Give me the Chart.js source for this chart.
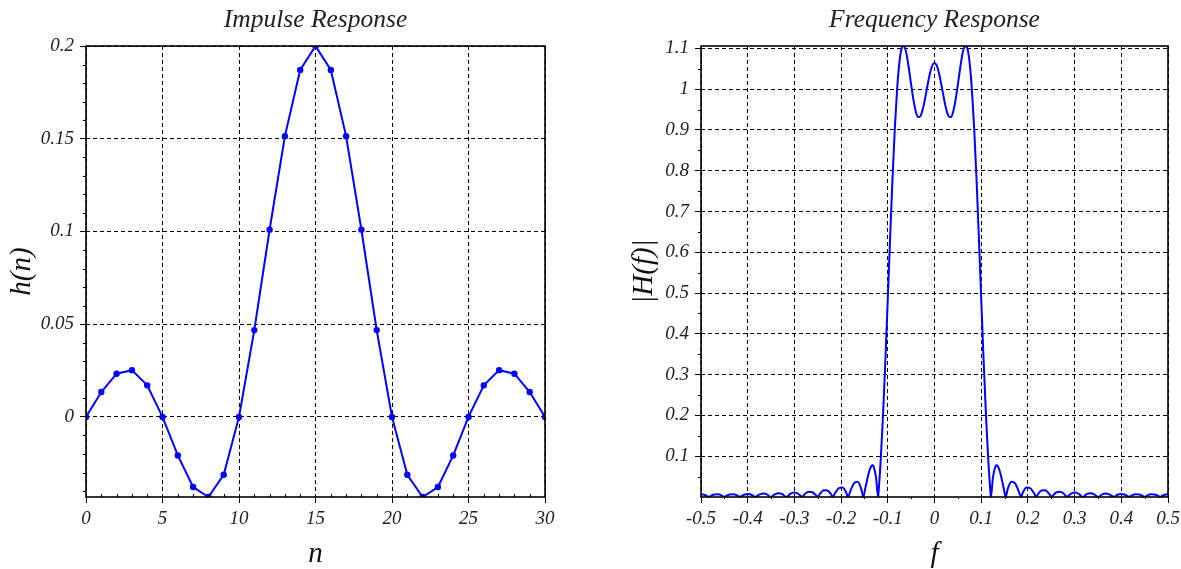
<!DOCTYPE html>
<html><head><meta charset="utf-8">
<script src="https://cdn.jsdelivr.net/npm/chart.js@4.4.1/dist/chart.umd.min.js"></script>
<style>
html,body{margin:0;padding:0;background:#fff;overflow:hidden;}
#wrapL{position:absolute;left:0;top:0;width:600px;height:569px;}
#wrapR{position:absolute;left:600px;top:0;width:581px;height:569px;}
</style></head><body>
<div id="wrapL"><canvas id="cL" width="600" height="569"></canvas></div>
<div id="wrapR"><canvas id="cR" width="581" height="569"></canvas></div>
<script>
// ---- Impulse response data ----
const nValues = [0,1,2,3,4,5,6,7,8,9,10,11,12,13,14,15,16,17,18,19,20,21,22,23,24,25,26,27,28,29,30];
const hValues = [0,0.0134,0.0233,0.0252,0.0170,0,-0.0208,-0.0378,-0.0432,-0.0312,0,0.0468,0.1009,0.1514,0.1871,0.2,0.1871,0.1514,0.1009,0.0468,0,-0.0312,-0.0432,-0.0378,-0.0208,0,0.0170,0.0252,0.0233,0.0134,0];

// ---- Frequency response data ----
const freqValues = [-0.5,-0.4952,-0.4871,-0.4834,-0.479,-0.471,-0.4629,-0.4548,-0.4502,-0.4468,-0.4387,-0.4306,-0.4226,-0.4169,-0.4145,-0.4065,-0.3984,-0.3903,-0.3837,-0.3823,-0.3742,-0.3661,-0.3581,-0.3505,-0.3419,-0.3339,-0.3258,-0.3172,-0.3097,-0.3016,-0.2935,-0.2855,-0.284,-0.2774,-0.2694,-0.2613,-0.2532,-0.2509,-0.2452,-0.2371,-0.229,-0.221,-0.218,-0.2129,-0.2048,-0.1968,-0.1887,-0.1852,-0.1806,-0.1726,-0.1645,-0.1565,-0.1526,-0.1484,-0.1403,-0.135,-0.1325,-0.13,-0.125,-0.1208,-0.12,-0.115,-0.11,-0.105,-0.1,-0.095,-0.09,-0.085,-0.08,-0.075,-0.07,-0.065,-0.06,-0.055,-0.05,-0.045,-0.04,-0.035,-0.03,-0.025,-0.02,-0.015,-0.01,-0.005,
0,
0.005,0.01,0.015,0.02,0.025,0.03,0.035,0.04,0.045,0.05,0.055,0.06,0.065,0.07,0.075,0.08,0.085,0.09,0.095,0.1,0.105,0.11,0.115,0.12,0.1208,0.125,0.13,0.1325,0.135,0.1403,0.1484,0.1526,0.1565,0.1645,0.1726,0.1806,0.1852,0.1887,0.1968,0.2048,0.2129,0.218,0.221,0.229,0.2371,0.2452,0.2509,0.2532,0.2613,0.2694,0.2774,0.284,0.2855,0.2935,0.3016,0.3097,0.3172,0.3258,0.3339,0.3419,0.3505,0.3581,0.3661,0.3742,0.3823,0.3837,0.3903,0.3984,0.4065,0.4145,0.4169,0.4226,0.4306,0.4387,0.4468,0.4502,0.4548,0.4629,0.471,0.479,0.4834,0.4871,0.4952,0.5];
const magValues = [0.0069,0.0062,0.0024,0,0.0028,0.0064,0.0065,0.003,0,0.0022,0.0063,0.007,0.0038,0,0.0016,0.0063,0.0076,0.0046,0,0.001,0.0064,0.0084,0.0057,0,0.0066,0.0095,0.0071,0,0.0069,0.011,0.009,0.0017,0,0.0074,0.0131,0.0117,0.0033,0,0.0082,0.0164,0.0159,0.0058,0,0.0097,0.0219,0.0231,0.0097,0,0.0131,0.0333,0.0374,0.0187,0,0.0201,0.0612,0.0763,0.0778,0.0737,0.0465,0,0.009,0.094,0.2061,0.3398,0.487,0.6372,0.7792,0.903,1.0007,1.0672,1.1014,1.1059,1.0867,1.052,1.0111,0.973,0.9449,0.9315,0.9342,0.9512,0.9783,1.0092,1.0374,1.057,
1.064,
1.057,1.0374,1.0092,0.9783,0.9512,0.9342,0.9315,0.9449,0.973,1.0111,1.052,1.0867,1.1059,1.1014,1.0672,1.0007,0.903,0.7792,0.6372,0.487,0.3398,0.2061,0.094,0.009,0,0.0465,0.0737,0.0778,0.0763,0.0612,0.0201,0,0.0187,0.0374,0.0333,0.0131,0,0.0097,0.0231,0.0219,0.0097,0,0.0058,0.0159,0.0164,0.0082,0,0.0033,0.0117,0.0131,0.0074,0,0.0017,0.009,0.011,0.0069,0,0.0071,0.0095,0.0066,0,0.0057,0.0084,0.0064,0.001,0,0.0046,0.0076,0.0063,0.0016,0,0.0038,0.007,0.0063,0.0022,0,0.003,0.0065,0.0064,0.0028,0,0.0024,0.0062,0.0069];

// ---- Tick values / labels ----
const leftXTicks = [0,5,10,15,20,25,30];
const leftXLabels = ['0','5','10','15','20','25','30'];
const leftYTicks = [0,0.05,0.1,0.15,0.2];
const leftYLabels = ['0','0.05','0.1','0.15','0.2'];
const rightXTicks = [-0.5,-0.4,-0.3,-0.2,-0.1,0,0.1,0.2,0.3,0.4,0.5];
const rightXLabels = ['-0.5','-0.4','-0.3','-0.2','-0.1','0','0.1','0.2','0.3','0.4','0.5'];
const rightYTicks = [0.1,0.2,0.3,0.4,0.5,0.6,0.7,0.8,0.9,1,1.1];
const rightYLabels = ['0.1','0.2','0.3','0.4','0.5','0.6','0.7','0.8','0.9','1','1.1'];

const FAMILY = "'Liberation Serif', 'Times New Roman', serif";
const tickFont = {family: FAMILY, size: 19, style: 'italic', weight: 'normal'};
const titleFont = {family: FAMILY, size: 25.5, style: 'italic', weight: 'normal', lineHeight: 1.2};
const axisTitleFont = {family: FAMILY, size: 29, style: 'italic', weight: 'normal', lineHeight: 1.0};

function range(a, b, s) { const r = []; for (let i = 0; a + i * s <= b + 1e-9; i++) r.push(+(a + i * s).toFixed(6)); return r; }

const framePlugin = {
  id: 'frame',
  afterDraw(chart, args, opts) {
    const {ctx, chartArea: a} = chart;
    const x = chart.scales.x, y = chart.scales.y;
    ctx.save();
    ctx.strokeStyle = '#000';
    ctx.lineWidth = 1;
    ctx.setLineDash([]);
    (opts.xMinor || []).forEach(v => {
      const px = Math.round(x.getPixelForValue(v)) + 0.5;
      ctx.beginPath(); ctx.moveTo(px, a.bottom); ctx.lineTo(px, a.bottom + opts.xMinorLen); ctx.stroke();
    });
    (opts.yMinor || []).forEach(v => {
      const py = Math.round(y.getPixelForValue(v)) + 0.5;
      ctx.beginPath(); ctx.moveTo(a.left, py); ctx.lineTo(a.left - 3, py); ctx.stroke();
    });
    ctx.lineWidth = 1.6;
    ctx.strokeRect(a.left, a.top, a.right - a.left, a.bottom - a.top);
    ctx.restore();
  }
};

function makeOptions(c) {
  return {
    responsive: false,
    animation: false,
    events: [],
    layout: {padding: {left: 0, right: c.padRight, top: 0, bottom: 0}},
    plugins: {
      legend: {display: false},
      tooltip: {enabled: false},
      title: {display: true, text: c.title, fullSize: false, color: '#222', font: titleFont, padding: {top: 5, bottom: 10.4}},
      frame: {xMinor: c.xMinor, yMinor: c.yMinor, xMinorLen: c.xMinorLen}
    },
    scales: {
      x: {
        type: 'linear', min: c.xMin, max: c.xMax,
        afterBuildTicks: s => { s.ticks = c.xTicks.map(v => ({value: v})); },
        afterFit: s => { s.height = 72; s.paddingLeft = 0; s.paddingRight = 0; },
        ticks: {autoSkip: false, maxRotation: 0, minRotation: 0, padding: 5, color: '#222', font: tickFont,
          callback: (v, i) => c.xLabels[i]},
        grid: {color: '#000', lineWidth: 1, tickLength: 6, tickColor: '#000', tickBorderDash: []},
        border: {display: false, dash: [4, 3]},
        title: {display: true, text: c.xTitle, color: '#111', font: axisTitleFont, padding: {top: 0, bottom: 0}}
      },
      y: {
        type: 'linear', min: c.yMin, max: c.yMax,
        afterBuildTicks: s => { s.ticks = c.yTicks.map(v => ({value: v})); },
        afterFit: s => { s.width = c.yAxisWidth; s.paddingTop = 0; s.paddingBottom = 0; },
        ticks: {autoSkip: false, padding: 6, color: '#222', font: tickFont,
          callback: (v, i) => c.yLabels[i]},
        grid: {color: '#000', lineWidth: 1, tickLength: 6, tickColor: '#000', tickBorderDash: []},
        border: {display: false, dash: [4, 3]},
        title: {display: true, text: c.yTitle, color: '#111', font: axisTitleFont, padding: {top: c.yTitlePad, bottom: 0}}
      }
    }
  };
}

new Chart(document.getElementById('cL'), {
  type: 'line',
  data: {datasets: [{
    data: nValues.map((n, i) => ({x: n, y: hValues[i]})),
    borderColor: '#0000ff', backgroundColor: '#0000ff', borderWidth: 2,
    pointRadius: 3.2, pointHoverRadius: 3.2, pointBorderWidth: 0, tension: 0
  }]},
  options: makeOptions({
    title: 'Impulse Response', xTitle: 'n', yTitle: 'h(n)',
    xMin: Math.min(...nValues), xMax: Math.max(...nValues),
    yMin: Math.min(...hValues), yMax: Math.max(...hValues),
    xTicks: leftXTicks, xLabels: leftXLabels, yTicks: leftYTicks, yLabels: leftYLabels,
    padRight: 55, yAxisWidth: 86, yTitlePad: 8,
    xMinor: range(0, 30, 1).filter(v => v % 5 !== 0), xMinorLen: -3,
    yMinor: range(-0.04, 0.2, 0.01).filter(v => Math.abs(Math.round(v * 20) - v * 20) > 1e-6),
  }),
  plugins: [framePlugin]
});

new Chart(document.getElementById('cR'), {
  type: 'line',
  data: {datasets: [{
    data: freqValues.map((f, i) => ({x: f, y: magValues[i]})),
    borderColor: '#0000ff', borderWidth: 2, pointRadius: 0, pointHoverRadius: 0,
    cubicInterpolationMode: 'monotone', fill: false
  }]},
  options: makeOptions({
    title: 'Frequency Response', xTitle: 'f', yTitle: '|H(f)|',
    xMin: -0.5, xMax: 0.5,
    yMin: 0, yMax: Math.max(...magValues),
    xTicks: rightXTicks, xLabels: rightXLabels, yTicks: rightYTicks, yLabels: rightYLabels,
    padRight: 13, yAxisWidth: 101, yTitlePad: 29.5,
    xMinor: range(-0.45, 0.45, 0.1), xMinorLen: 2,
    yMinor: range(0.05, 1.05, 0.1),
  }),
  plugins: [framePlugin]
});
</script>
</body></html>
